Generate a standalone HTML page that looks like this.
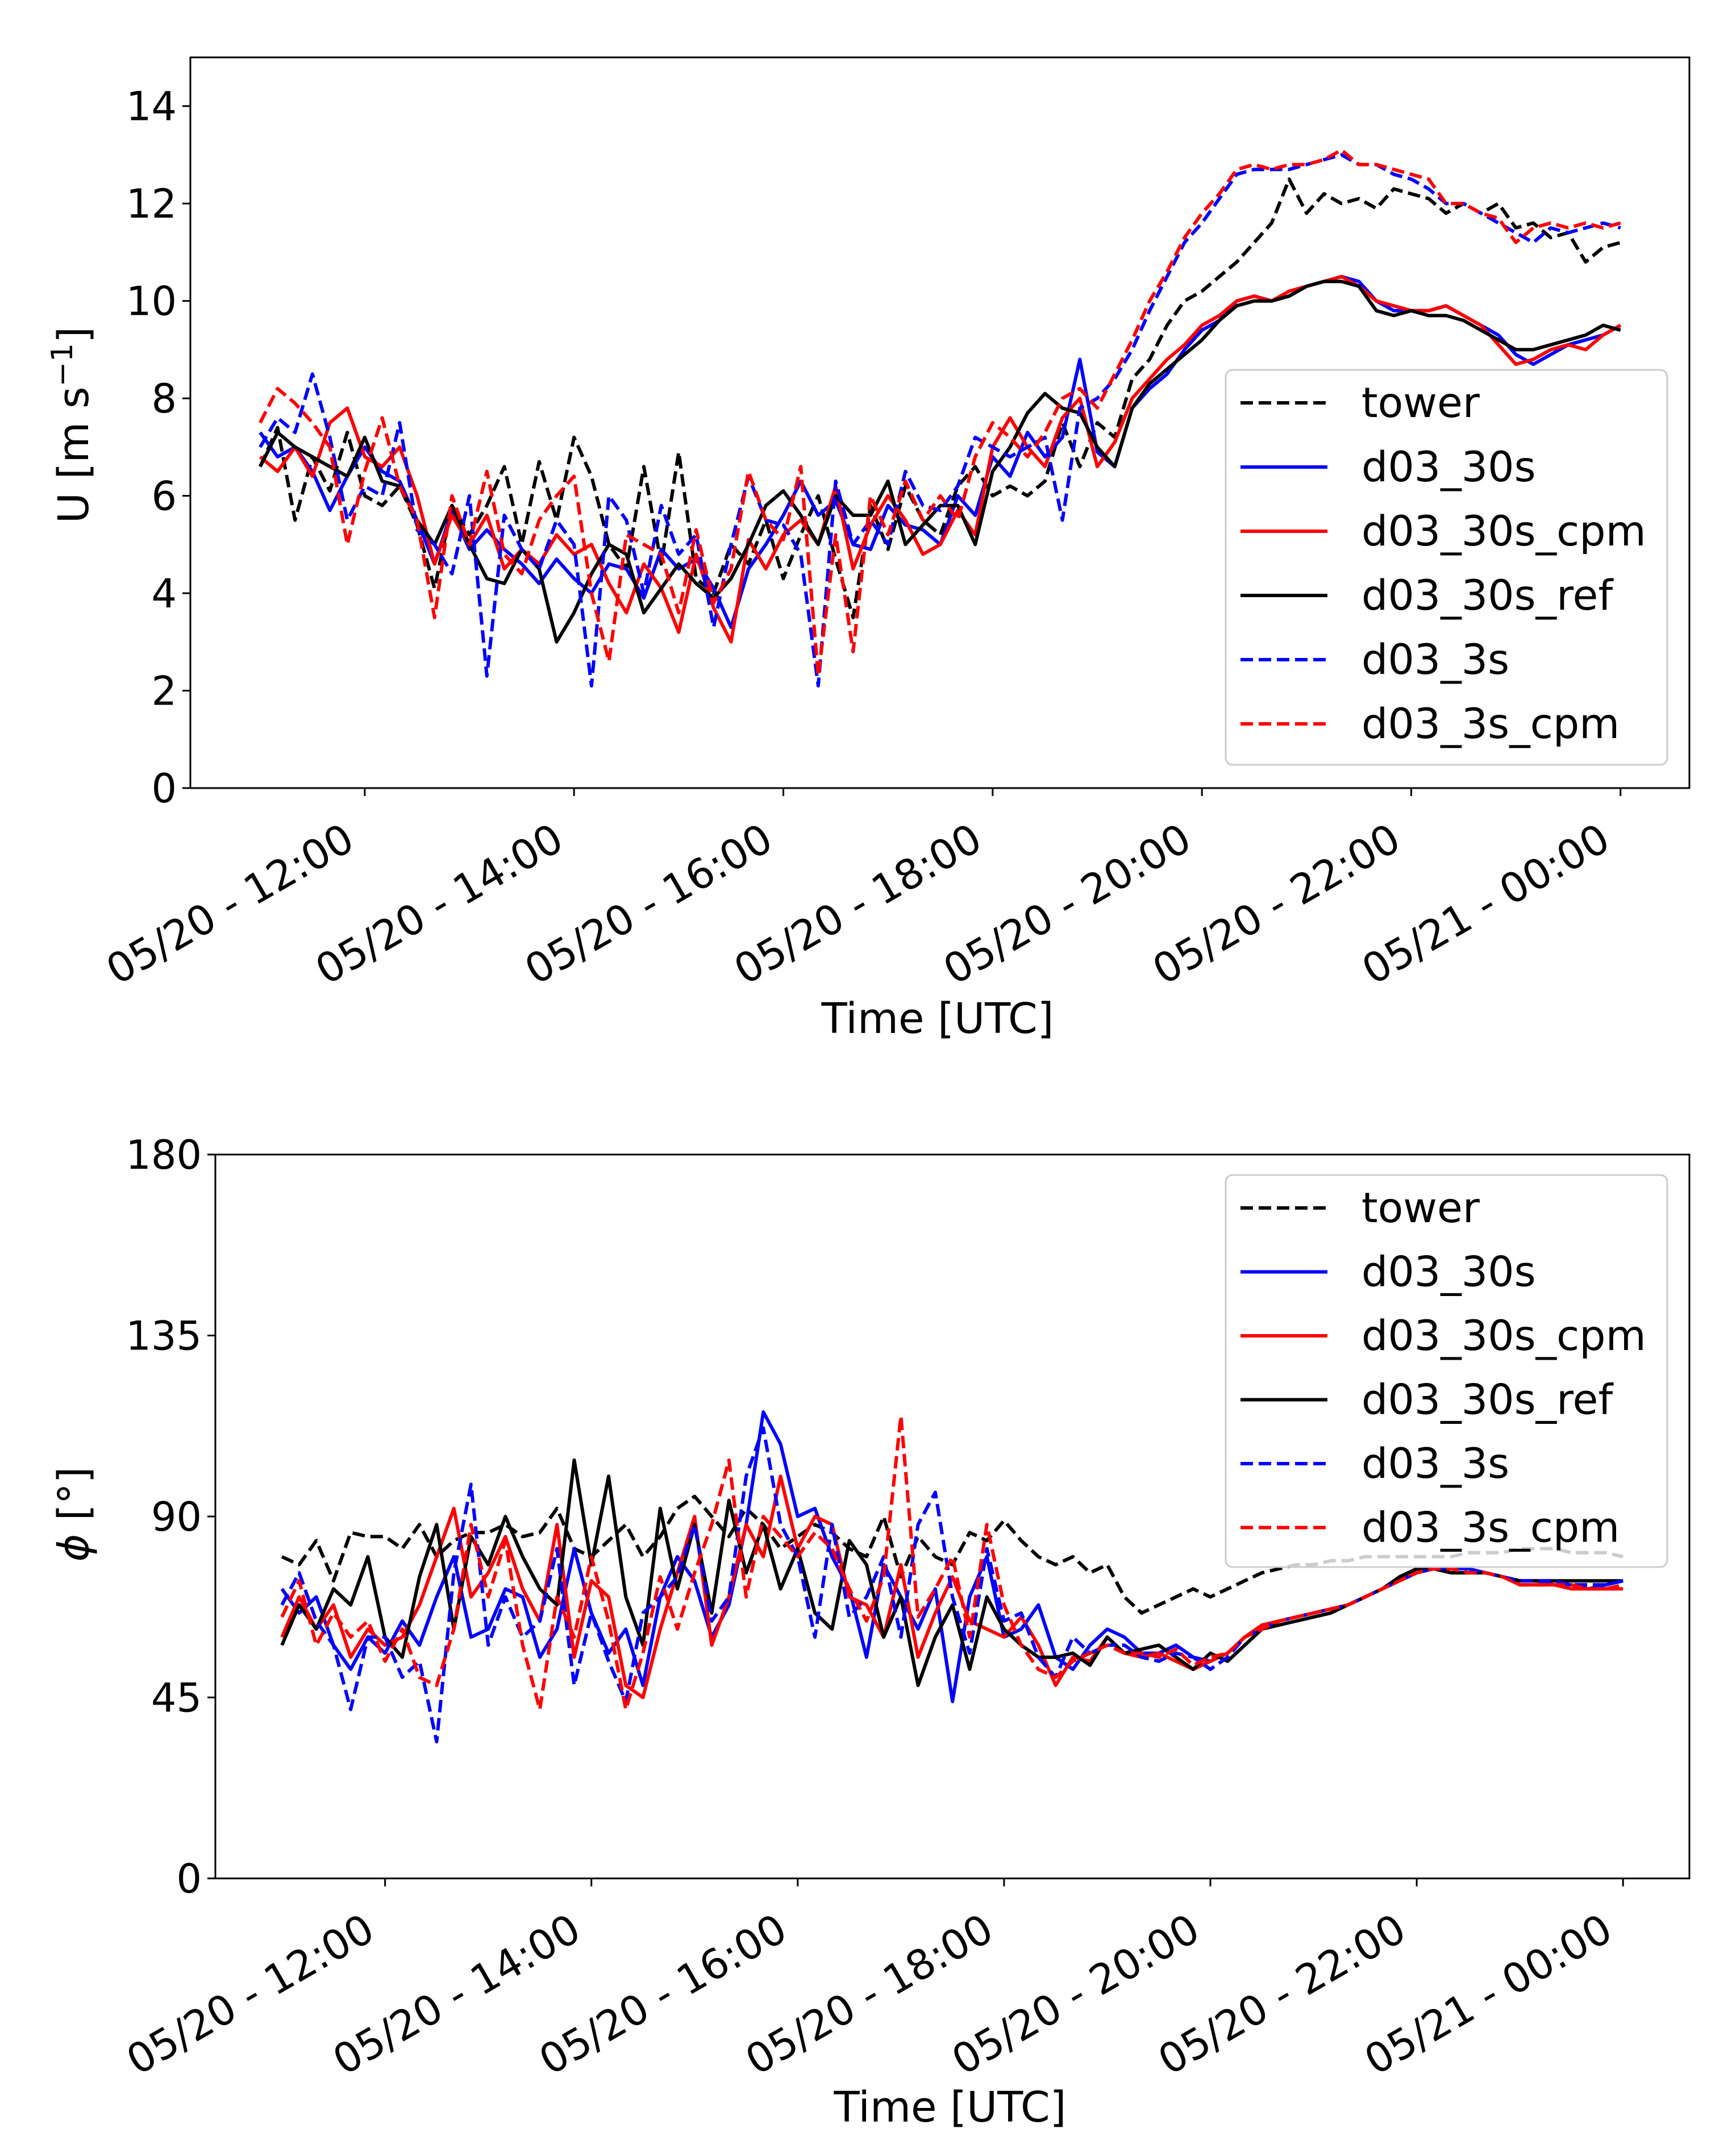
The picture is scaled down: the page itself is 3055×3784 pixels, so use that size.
<!DOCTYPE html>
<html><head><meta charset="utf-8"><style>
html,body{margin:0;padding:0;background:#fff}
svg{display:block}
text{font-family:"DejaVu Sans","Liberation Sans",sans-serif;fill:#000}
</style></head><body>
<svg id="fig" width="3055" height="3784" viewBox="0 0 3055 3784" xmlns="http://www.w3.org/2000/svg"></svg>
<script>
const times = []; // minutes after 11:00, 10-min steps
for (let i = 0; i <= 78; i++) times.push(i * 10);
const seriesNames = ["tower","d03_30s","d03_30s_cpm","d03_30s_ref","d03_3s","d03_3s_cpm"];
const seriesColors = ["#000","#0000ff","#ff0000","#000","#0000ff","#ff0000"];
const seriesDashed = [true,false,false,false,true,true];
const xTickLabels = ["05/20 - 12:00","05/20 - 14:00","05/20 - 16:00","05/20 - 18:00","05/20 - 20:00","05/20 - 22:00","05/21 - 00:00"];
const xTickValues = [60,180,300,420,540,660,780];
const uTicks = [0,2,4,6,8,10,12,14];
const phiTicks = [0,45,90,135,180];

const uTower = [6.6,7.4,5.5,6.8,6.1,7.3,6.0, 5.8,6.2,5.4,4.1,5.8,5.2, 5.8,6.6,5.0,6.7,5.5,7.2, 6.4,5.0,4.5,6.6,4.6,6.9, 4.3,4.0,5.0,4.6,5.5,4.3, 5.2,6.0,4.7,3.5,5.8,4.9, 6.2,5.5,5.2,6.2,6.6,6.0, 6.2,6.0,6.3,7.5,6.6,7.5, 7.2,8.4,8.8,9.5,10.0,10.2, 10.5,10.8,11.2,11.6,12.5,11.8, 12.2,12.0,12.1,11.9,12.3,12.2, 12.1,11.8,12.0,11.8,12.0,11.5, 11.6,11.3,11.4,10.8,11.1,11.2];
const u30s = [7.3,6.8,7.0,6.5,5.7,6.4,7.0, 6.5,6.3,5.5,4.6,5.7,4.9, 5.3,4.9,4.6,4.2,4.7,4.3, 4.0,4.6,4.5,3.9,4.9,4.5, 4.7,4.1,3.3,4.5,5.0,5.6, 6.3,5.6,5.9,5.0,4.9,5.8, 5.4,5.3,5.0,6.0,5.6,6.8, 6.4,7.3,6.8,7.2,8.8,6.9, 6.6,7.8,8.2,8.5,9.0,9.4, 9.6,10.0,10.1,10.0,10.1,10.3, 10.4,10.5,10.4,10.0,9.8,9.8, 9.8,9.9,9.7,9.5,9.3,8.9, 8.7,8.9,9.1,9.2,9.3,9.5];
const u30sCpm = [6.8,6.5,7.0,6.4,7.5,7.8,6.8, 6.6,7.0,6.0,4.6,5.6,5.0, 5.6,4.5,4.9,4.6,5.2,4.8, 5.0,4.2,3.6,4.6,4.1,3.2, 4.8,3.7,3.0,5.1,4.5,5.2, 5.5,5.0,6.2,4.5,5.4,6.0, 5.5,4.8,5.0,5.7,5.2,7.0, 7.6,7.0,6.6,7.6,8.0,6.6, 7.1,8.0,8.4,8.8,9.1,9.5, 9.7,10.0,10.1,10.0,10.2,10.3, 10.4,10.5,10.3,10.0,9.9,9.8, 9.8,9.9,9.7,9.5,9.1,8.7, 8.8,9.0,9.1,9.0,9.3,9.5];
const u30sRef = [6.6,7.3,7.0,6.8,6.6,6.4,7.2, 6.3,6.2,5.5,5.0,5.8,5.0, 4.3,4.2,4.9,4.5,3.0,3.6, 4.4,5.0,4.8,3.6,4.1,4.6, 4.2,3.9,4.3,5.0,5.8,6.1, 5.6,5.0,6.0,5.6,5.6,6.3, 5.0,5.4,5.8,5.8,5.0,6.5, 7.0,7.7,8.1,7.8,7.7,7.0, 6.6,7.8,8.3,8.6,8.9,9.2, 9.6,9.9,10.0,10.0,10.1,10.3, 10.4,10.4,10.3,9.8,9.7,9.8, 9.7,9.7,9.6,9.4,9.2,9.0, 9.0,9.1,9.2,9.3,9.5,9.4];
const u3s = [7.0,7.6,7.3,8.5,7.2,5.5,6.2, 6.0,7.5,5.3,5.0,4.4,6.0, 2.3,5.6,4.9,4.5,5.5,5.0, 2.1,6.0,5.5,4.0,5.8,4.8, 5.2,3.3,5.0,6.4,5.5,5.4, 4.8,2.1,6.3,5.0,5.5,5.0, 6.5,5.8,5.7,6.2,7.2,7.0, 6.8,7.0,7.2,5.5,7.8,8.0, 8.4,9.0,9.8,10.5,11.2,11.6, 12.1,12.6,12.7,12.7,12.7,12.8, 12.9,13.0,12.8,12.8,12.6,12.5, 12.3,12.0,12.0,11.8,11.6,11.4, 11.2,11.5,11.4,11.5,11.6,11.5];
const u3sCpm = [7.5,8.2,7.9,7.5,7.0,5.0,6.5, 7.6,6.2,5.5,3.5,6.0,5.0, 6.5,4.8,4.4,5.5,6.0,6.4, 4.0,2.6,5.2,5.0,4.8,3.6, 5.3,3.8,4.5,6.5,5.5,5.1, 6.6,2.3,5.2,2.8,6.0,5.2, 6.3,5.5,6.0,5.5,6.8,7.5, 7.2,6.8,7.3,8.0,8.2,7.8, 8.5,9.2,10.0,10.6,11.3,11.8, 12.2,12.7,12.8,12.7,12.8,12.8, 12.9,13.1,12.8,12.8,12.7,12.6, 12.5,12.0,12.0,11.8,11.7,11.2, 11.5,11.6,11.5,11.6,11.5,11.6];

const pTower = [80,78,84,74,86,85,85, 82,88,80,84,86,86, 88,85,86,92,82,80, 84,88,80,85,92,95, 90,85,92,88,82,85, 88,86,82,80,90,75, 85,80,78,86,84,89, 84,80,78,80,76,78, 70,66,68,70,72,70, 72,74,76,77,78,78, 79,79,80,80,80,80, 80,80,81,81,81,82, 82,82,81,81,81,80];
const p30s = [72,66,70,58,52,60,56, 64,58,70,80,60,62, 72,70,55,62,82,66, 56,62,48,70,80,74, 60,68,88,116,108,90, 92,80,72,55,78,70, 62,72,44,70,80,60, 62,68,55,52,58,62, 60,56,56,58,55,54, 56,60,62,64,65,66, 67,68,70,72,74,76, 77,77,77,76,75,74, 74,73,73,72,73,74];
const p30sCpm = [60,70,62,68,55,62,58, 60,68,80,92,70,76, 85,72,64,88,55,74, 70,48,45,62,76,90, 58,70,88,80,100,82, 90,88,70,68,60,78, 55,66,75,64,62,60, 65,58,48,55,54,60, 56,55,56,54,52,54, 56,60,63,64,65,66, 67,68,70,72,74,77, 77,76,76,76,75,73, 73,73,72,72,72,72];
const p30sRef = [58,68,62,72,68,80,60, 55,75,88,62,85,78, 90,80,72,68,104,78, 100,70,58,92,72,88, 66,94,76,88,72,82, 66,62,84,78,60,70, 48,60,68,52,70,62, 58,55,55,56,53,60, 56,57,58,55,52,56, 54,58,62,63,64,65, 66,68,70,72,75,77, 77,76,76,76,75,74, 74,74,74,74,74,74];
const p3s = [68,76,64,58,42,60,60, 50,54,34,76,98,58, 70,60,64,82,48,66, 54,44,66,70,75,88, 64,70,100,112,88,80, 60,88,65,70,80,60, 88,96,70,56,82,64, 66,55,50,60,56,58, 58,55,54,56,55,52, 55,60,62,64,65,66, 67,68,70,72,74,76, 77,77,77,76,75,74, 74,74,73,73,73,74];
const p3sCpm = [65,74,58,66,60,64,54, 62,50,48,62,88,70, 84,58,42,70,60,80, 64,42,56,75,62,76, 88,104,70,90,85,80, 86,82,72,64,75,115, 65,72,80,60,88,68, 58,52,50,54,56,58, 56,56,55,57,53,55, 56,60,62,64,65,66, 67,68,70,72,74,76, 77,77,76,76,75,73, 73,73,73,72,72,73];

const NS = "http://www.w3.org/2000/svg";
const svg = document.getElementById("fig");
function mk(tag, attrs, parent) {
  const e = document.createElementNS(NS, tag);
  for (const k in attrs) e.setAttribute(k, attrs[k]);
  (parent || svg).appendChild(e);
  return e;
}

function drawPanel(cfg) {
  const g = mk("g", {});
  
  
  const xs = t => cfg.left + (t - cfg.x0) / (cfg.x1 - cfg.x0) * (cfg.right - cfg.left);
  const ys = v => cfg.bottom - (v - cfg.y0) / (cfg.y1 - cfg.y0) * (cfg.bottom - cfg.top);
  cfg.data.forEach((arr, si) => {
    let d = "";
    arr.forEach((v, i) => { d += (i ? "L" : "M") + xs(times[i]).toFixed(1) + "," + ys(v).toFixed(1); });
    const p = mk("path", {d: d, fill: "none", stroke: seriesColors[si], "stroke-width": 6, "stroke-linejoin": "round"}, g);
    if (seriesDashed[si]) p.setAttribute("stroke-dasharray", "22,10");
    
    
  });
  const fr = mk("rect", {x: cfg.left, y: cfg.top, width: cfg.right - cfg.left, height: cfg.bottom - cfg.top, fill: "none", stroke: "#000", "stroke-width": 3}, g);
  
  
  cfg.yTicks.forEach(v => {
    const y = ys(v);
    mk("line", {x1: cfg.left - 14, x2: cfg.left, y1: y, y2: y, stroke: "#000", "stroke-width": 3}, g);
    const t = mk("text", {x: cfg.left - 24, y: y + 25, "text-anchor": "end", "font-size": 70}, g);
    t.textContent = v;
    
    
  });
  xTickValues.forEach((tv, i) => {
    const x = xs(tv);
    mk("line", {x1: x, x2: x, y1: cfg.bottom, y2: cfg.bottom + 14, stroke: "#000", "stroke-width": 3}, g);
    const ax = x - 14, ay = cfg.bottom + 104;
    const t = mk("text", {x: ax, y: ay, "text-anchor": "end", "font-size": 72, transform: "rotate(-30 " + ax + " " + ay + ")"}, g);
    t.textContent = xTickLabels[i];
    
    
  });
  const xl = mk("text", {x: cfg.xlabX, y: cfg.xlabY, "text-anchor": "middle", "font-size": 74}, g);
  xl.textContent = "Time [UTC]";
  
  
  const yl = mk("text", {x: 155, y: cfg.ylabY, "text-anchor": "middle", "font-size": 74, transform: "rotate(-90 155 " + cfg.ylabY + ")"}, g);
  yl.innerHTML = cfg.ylab;
  
  
  const lg = mk("g", {}, g);
  
  
  mk("rect", {x: 2157, y: cfg.legTop, width: 777, height: cfg.legH, rx: 12, fill: "#fff", "fill-opacity": 0.8, stroke: "#ccc", "stroke-width": 3}, lg);
  seriesNames.forEach((n, i) => {
    const y = cfg.legTop + 58 + i * cfg.legStep;
    const ln = mk("line", {x1: 2183, x2: 2336, y1: y, y2: y, stroke: seriesColors[i], "stroke-width": 6}, lg);
    if (seriesDashed[i]) ln.setAttribute("stroke-dasharray", "22,10");
    
    
    const t = mk("text", {x: 2396, y: y + 25, "font-size": 73}, lg);
    t.textContent = n;
    
    
  });
}

drawPanel({name: "wind-speed-panel", prefix: "speed", left: 335, right: 2973, top: 101, bottom: 1387,
  x0: -40, x1: 819.5, y0: 0, y1: 15, yTicks: uTicks,
  data: [uTower, u30s, u30sCpm, u30sRef, u3s, u3sCpm],
  xlabX: 1650, xlabY: 1818, ylabY: 748, ylab: 'U [m s<tspan dy="-28" font-size="52">−1</tspan><tspan dy="28">]</tspan>',
  legTop: 651, legH: 695, legStep: 113});

drawPanel({name: "wind-direction-panel", prefix: "direction", left: 379, right: 2973, top: 2032, bottom: 3306,
  x0: -38.7, x1: 818.6, y0: 0, y1: 180, yTicks: phiTicks,
  data: [pTower, p30s, p30sCpm, p30sRef, p3s, p3sCpm],
  xlabX: 1672, xlabY: 3734, ylabY: 2665, ylab: '<tspan font-style="italic">ϕ</tspan> [°]',
  legTop: 2068, legH: 690, legStep: 112.5});
</script>
</body></html>
